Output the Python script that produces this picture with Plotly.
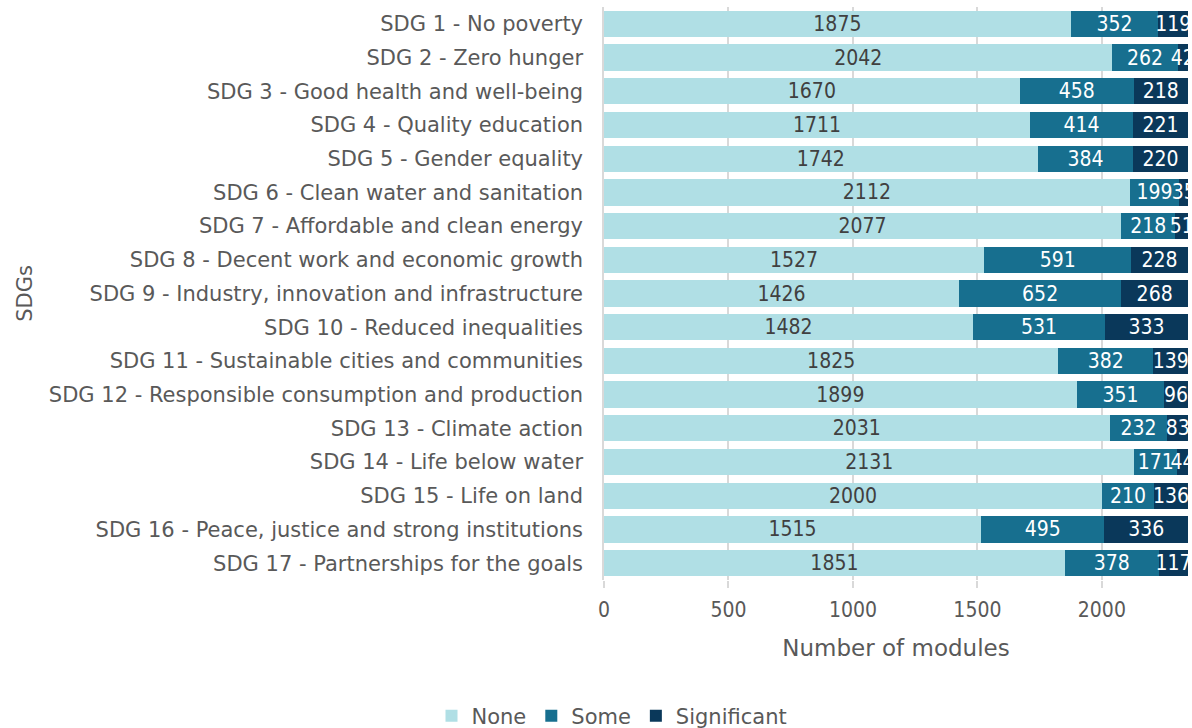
import plotly.graph_objects as go

categories = [
    "SDG 1 - No poverty",
    "SDG 2 - Zero hunger",
    "SDG 3 - Good health and well-being",
    "SDG 4 - Quality education",
    "SDG 5 - Gender equality",
    "SDG 6 - Clean water and sanitation",
    "SDG 7 - Affordable and clean energy",
    "SDG 8 - Decent work and economic growth",
    "SDG 9 - Industry, innovation and infrastructure",
    "SDG 10 - Reduced inequalities",
    "SDG 11 - Sustainable cities and communities",
    "SDG 12 - Responsible consumption and production",
    "SDG 13 - Climate action",
    "SDG 14 - Life below water",
    "SDG 15 - Life on land",
    "SDG 16 - Peace, justice and strong institutions",
    "SDG 17 - Partnerships for the goals",
]
none_vals = [1875, 2042, 1670, 1711, 1742, 2112, 2077, 1527, 1426, 1482, 1825, 1899, 2031, 2131, 2000, 1515, 1851]
some_vals = [352, 262, 458, 414, 384, 199, 218, 591, 652, 531, 382, 351, 232, 171, 210, 495, 378]
sig_vals = [119, 42, 218, 221, 220, 35, 51, 228, 268, 333, 139, 96, 83, 44, 136, 336, 117]
x_ticks = [0, 500, 1000, 1500, 2000]

FONT = "DejaVu Sans"
NUMFONT = "DejaVu Sans Condensed"
GRAY = "#595959"

series = [
    ("None", none_vals, "#b0dfe5", "#404040"),
    ("Some", some_vals, "#176f8f", "white"),
    ("Significant", sig_vals, "#0a385a", "white"),
]

fig = go.Figure()
for name, vals, color, tcolor in series:
    fig.add_trace(go.Bar(
        name=name, y=categories, x=vals, orientation="h",
        marker=dict(color=color, line=dict(width=0)),
        text=[str(v) for v in vals], textposition="inside",
        insidetextanchor="middle", textangle=0,
        textfont=dict(family=NUMFONT, size=21, color=tcolor),
        cliponaxis=True,
    ))

total = max(a + b + c for a, b, c in zip(none_vals, some_vals, sig_vals))

fig.update_layout(
    barmode="stack",
    bargap=0.22,
    width=1192, height=728,
    margin=dict(l=604, r=4, t=7, b=148, autoexpand=False),
    paper_bgcolor="white", plot_bgcolor="white",
    font=dict(family=FONT, size=21, color=GRAY),
    uniformtext=dict(mode="show", minsize=21),
    showlegend=True,
    legend=dict(orientation="h", x=612 / 1192, xref="container", xanchor="center",
                y=1 - 716 / 728, yref="container", yanchor="middle",
                font=dict(family=FONT, size=21, color=GRAY), traceorder="normal",
                itemwidth=30),
)
fig.update_xaxes(
    range=[0, total], tickvals=x_ticks, automargin=False,
    showgrid=True, gridcolor="#d9d9d9", gridwidth=1.5,
    ticks="outside", ticklen=7, tickcolor="#d9d9d9", tickwidth=1.5,
    zeroline=False, showline=False, ticklabelstandoff=4,
    tickfont=dict(family=NUMFONT, size=21, color=GRAY),
    title=dict(text="Number of modules", font=dict(family=FONT, size=23, color=GRAY), standoff=18),
)
fig.update_yaxes(
    autorange="reversed", showgrid=False, automargin=False,
    showline=True, linecolor="#d9d9d9", linewidth=1.5,
    ticks="", ticklabelstandoff=15,
    tickfont=dict(family=FONT, size=21, color=GRAY),
    title=dict(text="SDGs", font=dict(family=FONT, size=21, color=GRAY), standoff=10),
)

fig.write_html("out.html", config={"displayModeBar": False},
               post_script="document.body.style.margin='0';")
